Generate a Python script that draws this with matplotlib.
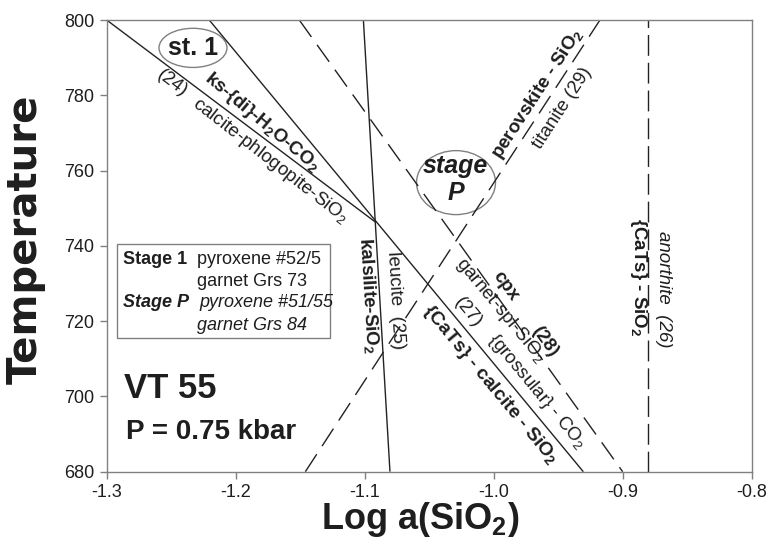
import numpy as np
import matplotlib.pyplot as plt
from matplotlib.patches import Ellipse, Rectangle

plt.rcParams['font.family'] = 'Liberation Sans'
plt.rcParams['mathtext.fontset'] = 'custom'
plt.rcParams['mathtext.rm'] = 'Liberation Sans'
plt.rcParams['mathtext.it'] = 'Liberation Sans:italic'
plt.rcParams['mathtext.bf'] = 'Liberation Sans:bold'
plt.rcParams['mathtext.default'] = 'regular'
plt.rcParams['lines.scale_dashes'] = False

# axes
x_ticks = [-1.3, -1.2, -1.1, -1.0, -0.9, -0.8]
x_tick_labels = ['-1.3', '-1.2', '-1.1', '-1.0', '-0.9', '-0.8']
y_ticks = [680, 700, 720, 740, 760, 780, 800]

# reaction curves: log a(SiO2) and T at the two ends
phl_x = [-1.3, -1.092]       # (24) calcite-phlogopite-SiO2, stops at invariant point
phl_t = [800, 746.4]
ks_x = [-1.2205, -0.9305]    # ks-{di}-H2O-CO2 / {CaTs}-calcite-SiO2
ks_t = [800, 680]
kls_x = [-1.101, -1.0804]    # (25) kalsilite-SiO2 / leucite
kls_t = [800, 680]
cpx_x = [-1.1507, -0.900]    # (28) cpx / garnet-spl-SiO2
cpx_t = [800, 680]
prv_x = [-1.146, -0.9176]    # (29) perovskite-SiO2 / titanite
prv_t = [680, 800]
an_x = [-0.88, -0.88]        # (26) {CaTs}-SiO2 / anorthite
an_t = [680, 800]

line_col = '#222222'
frame_col = '#808080'
txt_col = '#1e1e1e'

fig = plt.figure(figsize=(7.67, 5.44), dpi=100)
ax = fig.add_axes([0.1391, 0.1329, 0.8409, 0.8303])
ax.set_xlim(-1.3, -0.8)
ax.set_ylim(680, 800)

for s in ax.spines.values():
    s.set_color(frame_col)
    s.set_linewidth(1.0)
ax.set_xticks(x_ticks)
ax.set_xticklabels(x_tick_labels)
ax.set_yticks(y_ticks)
ax.tick_params(direction='out', length=5, width=1.0, color=frame_col,
               labelsize=13, labelcolor=txt_col, pad=4)

ax.set_xlabel('Log a(SiO$_\\mathbf{2}$)', fontsize=26, fontweight='bold',
              color=txt_col, va='center')
ax.xaxis.set_label_coords(0.486, -0.106)
ax.set_ylabel('Temperature', fontsize=29, fontweight='bold',
              family='DejaVu Sans', color=txt_col, va='center')
ax.yaxis.set_label_coords(-0.125, 0.515)

# solid curves
for xs, ts in [(phl_x, phl_t), (ks_x, ks_t), (kls_x, kls_t)]:
    ax.plot(xs, ts, color=line_col, lw=1.0, solid_capstyle='butt')
# dashed curves
for xs, ts in [(cpx_x, cpx_t), (prv_x, prv_t)]:
    ax.plot(xs, ts, color=line_col, lw=1.0, dashes=(15, 7))
ax.plot(an_x, an_t, color=line_col, lw=1.0, dashes=(15, 5))


def angle(xs, ts):
    p = ax.transData.transform(np.column_stack([xs, ts]))
    d = p[1] - p[0]
    a = np.degrees(np.arctan2(d[1], d[0]))
    if a >= 90:
        a -= 180
    if a < -90:
        a += 180
    return a


def label(x, y, s, rot, size=13.5, weight='normal', style='normal'):
    ax.text(x, y, s, rotation=rot, rotation_mode='anchor', ha='center',
            va='center', fontsize=size, fontweight=weight, fontstyle=style,
            color=txt_col)


a_phl = angle(phl_x, phl_t)
a_ks = angle(ks_x, ks_t)
a_kls = angle(kls_x, kls_t)
a_cpx = angle(cpx_x, cpx_t)
a_prv = angle(prv_x, prv_t)
a_an = angle(an_x, an_t)

label(-1.2494, 783.3, '(24)', a_phl)
label(-1.1735, 762.6, 'calcite-phlogopite-SiO$_2$', a_phl - 1)
label(-1.1796, 772.9, 'ks-{di}-H$_\\mathbf{2}$O-CO$_\\mathbf{2}$', a_phl - 3,
      weight='bold')

label(-0.9657, 780.3, 'perovskite - SiO$_\\mathbf{2}$', a_prv, weight='bold')
label(-0.947, 776.6, 'titanite (29)', a_prv)

label(-1.0975, 726.7, 'kalsilite-SiO$_\\mathbf{2}$', a_kls, weight='bold')
label(-1.0765, 725.6, 'leucite  (25)', a_kls)

label(-0.9912, 729.3, 'cpx', a_cpx, weight='bold')
label(-0.9602, 714.5, '(28)', a_cpx, weight='bold')
label(-0.9951, 723.0, 'garnet-spl-SiO$_2$', a_ks)
label(-1.0199, 722.4, '(27)', a_ks)
label(-0.9664, 701.2, '{grossular} - CO$_2$', a_ks)
label(-1.0029, 703.0, '{CaTs} - calcite - SiO$_\\mathbf{2}$', a_ks,
      size=14, weight='bold')

label(-0.8881, 731.7, '{CaTs} - SiO$_\\mathbf{2}$', a_an, weight='bold')
label(-0.8687, 728.5, 'anorthite  (26)', a_an, style='italic')

# stage markers
ax.add_patch(Ellipse((-1.2331, 792.6), 0.0527, 10.4, fill=False,
                     edgecolor=frame_col, lw=1.0))
ax.text(-1.2331, 792.6, 'st. 1', ha='center', va='center', fontsize=18,
        fontweight='bold', color=txt_col)
ax.add_patch(Ellipse((-1.0292, 756.8), 0.0612, 17.0, fill=False,
                     edgecolor=frame_col, lw=1.0))
ax.text(-1.0300, 761.2, 'stage', ha='center', va='center', fontsize=18,
        fontweight='bold', fontstyle='italic', color=txt_col)
ax.text(-1.0292, 754.0, 'P', ha='center', va='center', fontsize=18,
        fontweight='bold', fontstyle='italic', color=txt_col)

# composition box
ax.add_patch(Rectangle((0.016, 0.296), 0.330, 0.208, transform=ax.transAxes,
                       fill=False, edgecolor=frame_col, lw=1.0))
rows = [0.4687, 0.4200, 0.3735, 0.3226]
ax.text(0.0252, rows[0], 'Stage 1', transform=ax.transAxes, fontsize=13,
        fontweight='bold', va='center', color=txt_col)
ax.text(0.140, rows[0], 'pyroxene #52/5', transform=ax.transAxes, fontsize=13,
        va='center', color=txt_col)
ax.text(0.140, rows[1], 'garnet Grs 73', transform=ax.transAxes, fontsize=13,
        va='center', color=txt_col)
ax.text(0.0252, rows[2], 'Stage P', transform=ax.transAxes, fontsize=13,
        fontweight='bold', fontstyle='italic', va='center', color=txt_col)
ax.text(0.144, rows[2], 'pyroxene #51/55', transform=ax.transAxes,
        fontsize=13, fontstyle='italic', va='center', color=txt_col)
ax.text(0.140, rows[3], 'garnet Grs 84', transform=ax.transAxes, fontsize=13,
        fontstyle='italic', va='center', color=txt_col)

ax.text(0.027, 0.1853, 'VT 55', transform=ax.transAxes, fontsize=25,
        fontweight='bold', va='center', color=txt_col)
ax.text(0.030, 0.0879, 'P = 0.75 kbar', transform=ax.transAxes, fontsize=20,
        fontweight='bold', va='center', color=txt_col)

fig.savefig('out.png', dpi=100)
